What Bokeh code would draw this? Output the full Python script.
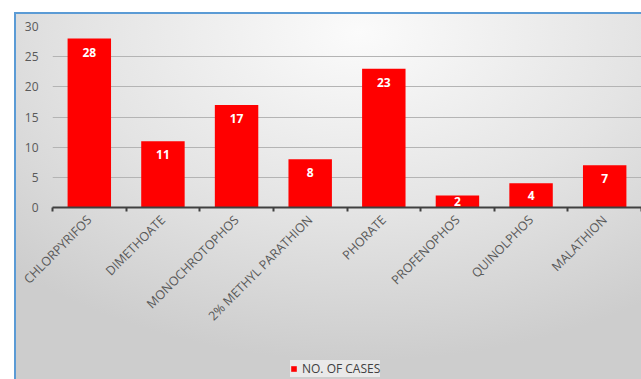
from bokeh.plotting import figure
from bokeh.layouts import column
from bokeh.models import ColumnDataSource, FixedTicker, Legend, LegendItem, Range1d
from bokeh.core.properties import value
from bokeh.embed import file_html
from bokeh.resources import INLINE

categories = ["CHLORPYRIFOS", "DIMETHOATE", "MONOCHROTOPHOS", "2% METHYL PARATHION",
              "PHORATE", "PROFENOPHOS", "QUINOLPHOS", "MALATHION"]
cases = [28, 11, 17, 8, 23, 2, 4, 7]
y_ticks = [0, 5, 10, 15, 20, 25, 30]
series_name = "NO. OF CASES"

xs = [i + 0.5 for i in range(len(categories))]
src = ColumnDataSource(dict(x=xs, top=cases))

tall = [(x, v) for x, v in zip(xs, cases) if v >= 5]
short = [(x, v) for x, v in zip(xs, cases) if v < 5]
src_tall = ColumnDataSource(dict(x=[t[0] for t in tall], y=[t[1] for t in tall],
                                 label=[str(t[1]) for t in tall]))
src_short = ColumnDataSource(dict(x=[s[0] for s in short], y=[s[1] / 2 for s in short],
                                  label=[str(s[1]) for s in short]))

BAR_RED = "#ff0000"

p = figure(width=625, height=326, output_backend="svg", toolbar_location=None,
           x_range=Range1d(0, len(categories)), y_range=Range1d(0, 30),
           min_border_left=36, min_border_right=0, min_border_top=12, min_border_bottom=133)
p.border_fill_color = None
p.background_fill_color = None
p.outline_line_color = None

p.vbar(x="x", top="top", width=0.59, bottom=0, source=src, fill_color=BAR_RED, line_color=None)
label_kw = dict(text="label", text_color="white", text_font=value("Open Sans"),
                text_font_style="bold", text_font_size="12px", text_align="center")
p.text(x="x", y="y", source=src_tall, text_baseline="top", y_offset=9, **label_kw)
p.text(x="x", y="y", source=src_short, text_baseline="middle", **label_kw)

p.xgrid.visible = False
p.ygrid.ticker = FixedTicker(ticks=y_ticks)
p.ygrid.grid_line_color = "#b4b4b4"

p.yaxis.ticker = FixedTicker(ticks=y_ticks)
p.yaxis.axis_line_color = None
p.yaxis.major_tick_line_color = None
p.yaxis.minor_tick_line_color = None
p.yaxis.major_label_text_color = "#595959"
p.yaxis.major_label_text_font = "Open Sans"
p.yaxis.major_label_text_font_size = "12px"
p.yaxis.major_label_standoff = 8

p.xaxis.ticker = FixedTicker(ticks=xs, minor_ticks=list(range(len(categories) + 1)))
p.xaxis.major_label_overrides = {x: c for x, c in zip(xs, categories)}
p.xaxis.major_label_orientation = 0.79
p.xaxis.axis_line_color = "#404040"
p.xaxis.axis_line_width = 2
p.xaxis.major_tick_line_color = None
p.xaxis.minor_tick_line_color = "#404040"
p.xaxis.minor_tick_line_width = 2
p.xaxis.minor_tick_out = 4
p.xaxis.minor_tick_in = 0
p.xaxis.major_label_text_color = "#595959"
p.xaxis.major_label_text_font = "Open Sans"
p.xaxis.major_label_text_font_size = "12.5px"
p.xaxis.major_label_standoff = 4

# legend strip below the chart (its ranges exclude the bars, only the legend shows)
p2 = figure(width=625, height=39, output_backend="svg", toolbar_location=None,
            x_range=Range1d(-20, -19), y_range=Range1d(-20, -19),
            x_axis_location=None, y_axis_location=None,
            min_border=0)
p2.border_fill_color = None
p2.background_fill_color = None
p2.outline_line_color = None
p2.grid.visible = False
lr = p2.vbar(x="x", top="top", width=0.5, bottom=0, source=src, fill_color=BAR_RED, line_color=None)
legend = Legend(items=[LegendItem(label=series_name, renderers=[lr], index=0)], location=(238, 2),
                background_fill_color="#ececec", background_fill_alpha=0.9, border_line_color=None,
                label_text_font="Open Sans", label_text_font_size="12px", label_text_color="#404040",
                label_height=15, glyph_width=7, glyph_height=7, padding=6, label_standoff=5, margin=0)
p2.add_layout(legend, "center")

layout = column(p, p2, spacing=0)
layout.margin = (12, 0, 0, 14)
layout.styles = {"background": "radial-gradient(ellipse 80% 90% at 55% 5%, #fbfbfb 0%, #e4e4e4 55%, #cdcdcd 100%)",
                 "border-left": "2px solid #5b9bd5", "border-top": "2px solid #5b9bd5"}

open("out.html", "w").write(file_html(layout, INLINE))
